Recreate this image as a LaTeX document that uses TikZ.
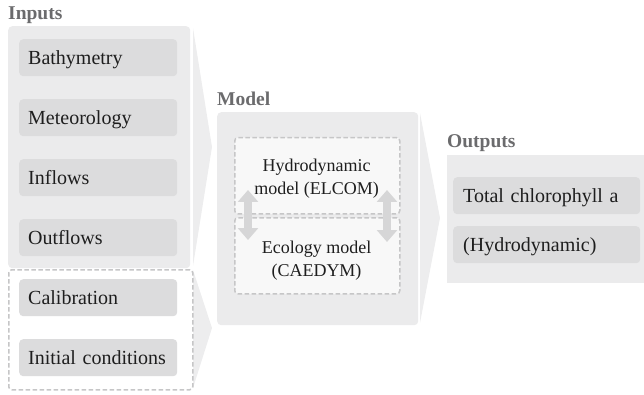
\documentclass[tikz,border=0pt]{standalone}
\usepackage{fontspec}
\setmainfont{Liberation Serif}
\usetikzlibrary{arrows.meta}
\definecolor{panelc}{HTML}{EBEBEC}
\definecolor{boxc}{HTML}{DCDCDD}
\definecolor{dashc}{HTML}{C6C6C7}
\definecolor{titlec}{HTML}{6B6B6D}
\definecolor{txtc}{HTML}{1E1E1E}
\definecolor{arrc}{HTML}{D6D6D7}
\definecolor{chevc}{HTML}{EDEDEE}
\definecolor{innerc}{HTML}{F8F8F8}
\begin{document}
\begin{tikzpicture}[x=1pt,y=-1pt,
  panelbox/.style={fill=panelc, rounded corners=4pt, draw=none, anchor=north west, inner sep=0pt},
  itembox/.style={fill=boxc, rounded corners=4pt, draw=none, anchor=north west, inner sep=0pt,
     text=txtc, font=\fontsize{20}{24}\selectfont, align=left, text height=14pt, text depth=0pt},
  titletext/.style={anchor=base west, inner sep=0pt, text=titlec, font=\fontsize{19.5}{22}\selectfont\bfseries},
  dashbox/.style={draw=dashc, line width=1.5pt, dash pattern=on 4.5pt off 2.5pt, rounded corners=3pt, anchor=north west, inner sep=0pt},
  modeltext/.style={anchor=base, inner sep=0pt, text=txtc, font=\fontsize{18}{22}\selectfont},
  chevron/.style={fill=chevc, draw=none},
  dblarrow/.style={draw=arrc, line width=8pt, {Triangle[width=20pt,length=12pt]}-{Triangle[width=20pt,length=12pt]}}
]
\useasboundingbox (0,0) rectangle (644,395);

% chevrons
\fill[chevron] (193,28) -- (212,147) -- (193,266) -- cycle;
\fill[chevron] (193,270) -- (212,328) -- (193,388) -- cycle;
\fill[chevron] (420,113) -- (440,218) -- (420,323) -- cycle;

% Inputs
\node[titletext] (tin) at (8,20) {Inputs};
\node[panelbox, minimum width=182pt, minimum height=242pt] (pin) at (8,26) {};
\node[dashbox, minimum width=184pt, minimum height=120pt, fill=white] (din) at (8,269) {};
\foreach \nm/\yy/\tx in {b1/39/Bathymetry, b2/99/Meteorology, b3/159/Inflows, b4/219/Outflows, b5/279/Calibration, b6/339/Initial conditions}{
  \node[itembox, minimum width=158pt, minimum height=37pt, text width=140pt, inner xsep=9pt] (\nm) at (19,\yy) {\tx};
}

% Model
\node[titletext] (tmod) at (217,106) {Model};
\node[panelbox, minimum width=201pt, minimum height=213pt] (pmod) at (217,112) {};
\node[dashbox, fill=innerc, minimum width=165pt, minimum height=76pt] (hyd) at (234,137) {};
\node[dashbox, fill=innerc, minimum width=165pt, minimum height=76pt] (eco) at (234,217) {};
\node[modeltext] (h1) at (316.5,171.5) {Hydrodynamic};
\node[modeltext] (h2) at (316.5,195) {model (ELCOM)};
\node[modeltext] (e1) at (316.5,253) {Ecology model};
\node[modeltext] (e2) at (316.5,276.5) {(CAEDYM)};
\coordinate (la) at (248,190);
\coordinate (lb) at (248,240);
\coordinate (ra) at (387,190);
\coordinate (rb) at (387,242);
\draw[dblarrow] (la) -- (lb);
\draw[dblarrow] (ra) -- (rb);

% Outputs
\node[titletext] (tout) at (447,148) {Outputs};
\node[panelbox, minimum width=197pt, minimum height=128pt, rounded corners=0pt] (pout) at (447,155) {};
\node[itembox, minimum width=187pt, minimum height=37pt, text width=167pt, inner xsep=10pt] (o1) at (453,177) {Total chlorophyll a};
\node[itembox, minimum width=187pt, minimum height=37pt, text width=167pt, inner xsep=10pt] (o2) at (453,226) {(Hydrodynamic)};
\end{tikzpicture}
\end{document}
